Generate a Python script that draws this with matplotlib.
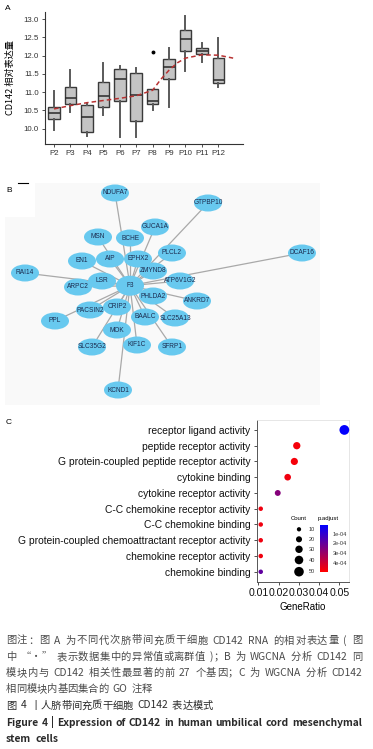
import matplotlib
matplotlib.use('Agg')
import matplotlib.pyplot as plt
import matplotlib.patches as patches
from matplotlib.colors import LinearSegmentedColormap, Normalize
from matplotlib.cm import ScalarMappable
import numpy as np

# ---------- dados painel A ----------
passagens = ['P2', 'P3', 'P4', 'P5', 'P6', 'P7', 'P8', 'P9', 'P10', 'P11', 'P12']
q1 = [10.27, 10.68, 9.91, 10.60, 10.77, 10.21, 10.68, 11.35, 12.13, 12.04, 11.24]
mediana = [10.42, 10.85, 10.31, 10.89, 11.36, 10.92, 10.77, 11.70, 12.44, 12.12, 11.33]
q3 = [10.60, 11.13, 10.64, 11.29, 11.64, 11.53, 11.09, 11.90, 12.70, 12.20, 11.92]
bigode_inf = [9.96, 10.45, 9.81, 10.36, 9.78, 9.78, 10.52, 10.58, 11.58, 11.83, 11.13]
bigode_sup = [11.03, 11.61, 10.69, 11.79, 11.71, 11.67, 11.09, 12.22, 13.09, 12.33, 12.49]
outliers = [[], [], [], [], [], [], [12.09], [], [], [], []]
# curva de tendência (loess)
curva_x = [0, 1, 2, 3, 4, 5, 6, 6.5, 7, 7.5, 8, 9, 10, 10.9]
curva_y = [10.54, 10.63, 10.71, 10.77, 10.83, 10.90, 11.05, 11.35, 11.60, 11.80, 11.93, 12.02, 12.01, 11.93]

# ---------- dados painel B (rede) ----------
hub = 'F3'
hub_pos = (130, 285.7)
genes = ['NDUFA7', 'GTPBP10', 'DCAF16', 'GUCA1A', 'MSN', 'BCHE', 'PLCL2', 'EN1', 'AIP',
         'EPHX2', 'RAI14', 'ZMYND8', 'LSR', 'ATP6V1G2', 'ARPC2', 'PHLDA2', 'ANKRD7',
         'PACSIN2', 'CRIP2', 'BAALC', 'SLC25A13', 'PPL', 'MOK', 'SLC35G2', 'KIF1C',
         'SFRP1', 'KCND1']
genes_x = [115, 208, 302, 155, 98, 130, 172, 82, 110, 138, 25, 153, 102, 180, 78, 153,
           197, 90, 117, 145, 175, 55, 117, 92, 137, 172, 118]
genes_y = [193, 203, 253, 227, 237, 238, 253, 261, 259, 259, 273, 271, 281, 281, 287, 296,
           301, 310, 307, 317, 318, 321, 330, 347, 345, 347, 390]

# ---------- dados painel C (GO) ----------
termos = ['receptor ligand activity', 'peptide receptor activity',
          'G protein-coupled peptide receptor activity', 'cytokine binding',
          'cytokine receptor activity', 'C-C chemokine receptor activity',
          'C-C chemokine binding', 'G protein-coupled chemoattractant receptor activity',
          'chemokine receptor activity', 'chemokine binding']
gene_ratio = [0.0525, 0.0290, 0.0278, 0.0245, 0.0196, 0.0112, 0.0112, 0.0112, 0.0112, 0.0112]
contagem = [52, 29, 28, 24, 19, 11, 11, 11, 11, 11]
p_ajust = [1.5e-5, 4.7e-4, 4.7e-4, 4.6e-4, 2.6e-4, 4.6e-4, 4.6e-4, 4.6e-4, 4.6e-4, 1.9e-4]
legenda_count = [10, 20, 30, 40, 50]

W, H = 373, 749
fig = plt.figure(figsize=(W / 100, H / 100), dpi=100)
renderer = fig.canvas.get_renderer()


def caixa(x0, y0, x1, y1):
    # converte pixels (origem em cima) para coordenadas da figura
    return [x0 / W, 1 - y1 / H, (x1 - x0) / W, (y1 - y0) / H]


fonte_cjk = ['Noto Sans CJK SC', 'DejaVu Sans']

# ================= painel A =================
axA = fig.add_axes(caixa(45, 11.7, 243, 144))
stats = []
for i in range(len(passagens)):
    stats.append(dict(med=mediana[i], q1=q1[i], q3=q3[i], whislo=bigode_inf[i],
                      whishi=bigode_sup[i], fliers=outliers[i]))
axA.bxp(stats, positions=range(len(passagens)), widths=0.7, patch_artist=True,
        showcaps=False,
        boxprops=dict(facecolor='#c4c4c4', edgecolor='#3a3a3a', linewidth=1.0),
        medianprops=dict(color='#2a2a2a', linewidth=1.1),
        whiskerprops=dict(color='#5a5a5a', linewidth=1.4),
        flierprops=dict(marker='o', markersize=1.8, markerfacecolor='black',
                        markeredgecolor='black'),
        zorder=2)
axA.plot(curva_x, curva_y, color='#b83232', linestyle=(0, (3, 2)), linewidth=1.1, zorder=3)
axA.set_xlim(-0.55, 11.5)
axA.set_ylim(9.58, 13.2)
axA.set_yticks([10.0, 10.5, 11.0, 11.5, 12.0, 12.5, 13.0])
axA.set_yticklabels(['10.0', '10.5', '11.0', '11.5', '12.0', '12.5', '13.0'])
axA.set_xticks(range(len(passagens)))
axA.set_xticklabels(passagens)
axA.tick_params(labelsize=5.7, length=2.5, width=0.6, colors='#333333', pad=2)
for lab in axA.get_xticklabels() + axA.get_yticklabels():
    lab.set_family('Liberation Sans')
for s in ['top', 'right']:
    axA.spines[s].set_visible(False)
for s in ['left', 'bottom']:
    axA.spines[s].set_color('#333333')
    axA.spines[s].set_linewidth(0.8)
axA.set_ylabel('CD142 相对表达量', fontsize=6.6, family=fonte_cjk, labelpad=6)

# ================= camada de sobreposição (pixels) =================
ax0 = fig.add_axes([0, 0, 1, 1], zorder=5)
ax0.set_xlim(0, W)
ax0.set_ylim(H, 0)
ax0.axis('off')

ax0.text(5, 8, 'A', fontsize=6, family='Liberation Sans', va='center')

# ================= painel B =================
ax0.add_patch(patches.Rectangle((5, 183), 315, 222, facecolor='#f9f9f9', edgecolor='none', zorder=0))
ax0.add_patch(patches.Rectangle((5, 183), 30, 34, facecolor='white', edgecolor='none', zorder=0.5))
ax0.plot([18, 28], [182.5, 182.5], color='black', linewidth=0.8)
ax0.text(6, 190, 'B', fontsize=6, family='Liberation Sans', va='center')

for gx, gy in zip(genes_x, genes_y):
    ax0.plot([hub_pos[0], gx], [hub_pos[1], gy], color='#a9a9a9', linewidth=0.9, zorder=1)
for nome, gx, gy in zip(genes, genes_x, genes_y):
    ax0.add_patch(patches.Ellipse((gx, gy), 28, 17, facecolor='#68c9ef', edgecolor='none', zorder=2))
    ax0.text(gx, gy, nome, fontsize=4.7, family='Liberation Sans', color='#1b2a4e',
             ha='center', va='center', zorder=3)
ax0.add_patch(patches.Ellipse(hub_pos, 28, 20, facecolor='#68c9ef', edgecolor='none', zorder=2))
ax0.text(hub_pos[0], hub_pos[1], hub, fontsize=4.7, family='Liberation Sans', color='#1b2a4e',
         ha='center', va='center', zorder=3)

# ================= painel C =================
ax0.text(6, 423, 'C', fontsize=6, family='Liberation Sans', va='center')
axC = fig.add_axes(caixa(256.7, 420, 349, 581.7))
cmap = LinearSegmentedColormap.from_list('padj', ['#0000ff', '#ff0000'])
norm = Normalize(vmin=1e-5, vmax=4.9e-4)
yy = np.arange(len(termos))[::-1] + 1
axC.scatter(gene_ratio, yy, s=np.array(contagem) * 0.95, c=p_ajust, cmap=cmap, norm=norm,
            edgecolors='none', clip_on=False, zorder=3)
axC.set_xlim(0.0092, 0.0548)
axC.set_ylim(0.37, len(termos) + 0.63)
axC.set_yticks(yy)
axC.set_yticklabels(termos)
axC.set_xticks([0.01, 0.02, 0.03, 0.04, 0.05])
axC.set_xticklabels(['0.01', '0.02', '0.03', '0.04', '0.05'])
axC.tick_params(axis='y', labelsize=7.4, length=2.5, width=0.6, colors='#333333',
                labelcolor='#111111', pad=2)
axC.tick_params(axis='x', labelsize=7.6, length=2.5, width=0.6, colors='#333333',
                labelcolor='#111111', pad=2)
for lab in axC.get_xticklabels() + axC.get_yticklabels():
    lab.set_family('Liberation Sans')
axC.set_xlabel('GeneRatio', fontsize=7.0, family='Liberation Sans', labelpad=3)
for s in ['top', 'right']:
    axC.spines[s].set_color('#e2e2e2')
    axC.spines[s].set_linewidth(0.6)
for s in ['left', 'bottom']:
    axC.spines[s].set_color('#555555')
    axC.spines[s].set_linewidth(0.7)

# legenda de tamanho (Count)
ax0.text(298.5, 518.5, 'Count', fontsize=4.3, family='Liberation Sans', ha='center', va='center')
leg_y = [529.3, 539.3, 549.3, 560, 571.7]
for c, ly in zip(legenda_count, leg_y):
    ax0.scatter([299], [ly], s=c * 0.95, color='black', edgecolors='none')
    ax0.text(309, ly, str(c), fontsize=4.0, family='Liberation Sans', color='#333333', va='center')

# barra de cores (p.adjust)
ax0.text(328, 518.5, 'p.adjust', fontsize=4.3, family='Liberation Sans', ha='center', va='center')
cax = fig.add_axes(caixa(320, 525, 328.3, 571.7))
cb = fig.colorbar(ScalarMappable(norm=norm, cmap=cmap), cax=cax)
cb.outline.set_visible(False)
cax.invert_yaxis()
cb.set_ticks([1e-4, 2e-4, 3e-4, 4e-4])
cb.set_ticklabels(['1e-04', '2e-04', '3e-04', '4e-04'])
cax.tick_params(labelsize=4.0, length=1.5, width=0.4, colors='white', labelcolor='#333333', pad=1.5)
for lab in cax.get_yticklabels():
    lab.set_family('Liberation Sans')


# ================= legenda (texto justificado) =================
def largura(txt, **kw):
    t = ax0.text(0, 0, txt, **kw)
    w = t.get_window_extent(renderer).width
    t.remove()
    return w


def unidades(txt):
    # cada caractere CJK é uma unidade; palavras latinas ficam juntas
    partes = []
    atual = ''
    espaco_antes = False
    for ch in txt:
        if ch == ' ':
            if atual:
                partes.append((atual, espaco_antes))
                atual = ''
            espaco_antes = True
            continue
        if ord(ch) > 0x2000:
            if atual:
                partes.append((atual, espaco_antes))
                espaco_antes = False
                atual = ''
            partes.append((ch, espaco_antes))
            espaco_antes = False
        else:
            atual += ch
    if atual:
        partes.append((atual, espaco_antes))
    return partes


ESPACO = 4.2  # largura de um espaço, em pixels


def linha_justificada(txt, y, x0, x1, justificar, **kw):
    partes = unidades(txt)
    ws = [largura(p, **kw) for p, _ in partes]
    natural = sum(ws) + ESPACO * sum(1 for _, e in partes[1:] if e)
    extra = (x1 - x0 - natural) / max(len(partes) - 1, 1) if justificar else 0
    x = x0
    for i, ((p, e), w) in enumerate(zip(partes, ws)):
        if i > 0:
            x += extra + (ESPACO if e else 0)
        ax0.text(x, y, p, va='center', **kw)
        x += w


linhas = [
    ('图注：图 A 为不同代次脐带间充质干细胞 CD142 RNA 的相对表达量 ( 图', 640.5, 'normal', '#4a4a4a', True),
    ('中 “•” 表示数据集中的异常值或离群值 )；B 为 WGCNA 分析 CD142 同', 657, 'normal', '#4a4a4a', True),
    ('模块内与 CD142 相关性最显著的前 27 个基因；C 为 WGCNA 分析 CD142', 673, 'normal', '#4a4a4a', True),
    ('相同模块内基因集合的 GO 注释', 689.3, 'normal', '#4a4a4a', False),
    ('图 4 丨人脐带间充质干细胞 CD142 表达模式', 705.5, 'normal', '#2a2a2a', False),
    ('Figure 4  |  Expression of CD142 in human umbilical cord mesenchymal', 722.5, 'bold', '#2a2a2a', True),
    ('stem cells', 738.5, 'bold', '#2a2a2a', False),
]
for txt, ly, peso, cor, just in linhas:
    linha_justificada(txt, ly, 6, 362, just, fontsize=7.4, family=fonte_cjk,
                      weight=peso, color=cor)

fig.savefig('out.png', dpi=100)
